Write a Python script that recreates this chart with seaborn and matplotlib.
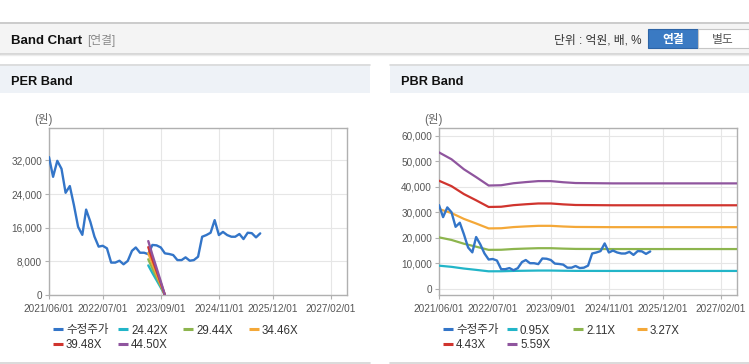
import numpy as np
import pandas as pd
import matplotlib
matplotlib.use("Agg")
import matplotlib.pyplot as plt
import matplotlib.dates as mdates
from matplotlib.ticker import FuncFormatter
from matplotlib.patches import Rectangle
from matplotlib.lines import Line2D
import seaborn as sns

# ---------------- data ----------------
price_label = "수정주가"
price_start = "2021-06-01"
price_end = "2025-09-01"
price_values = [32800, 28100, 31900, 30000, 24300, 25900, 21400, 16200, 14300, 20300,
                17400, 13900, 11500, 11700, 11100, 7700, 7700, 8150, 7300, 8100,
                10500, 11300, 10050, 10050, 9700, 11900, 11800, 11300, 9900, 9750,
                9500, 8300, 8300, 8950, 8150, 8300, 9100, 13850, 14250, 14800,
                17800, 14250, 15000, 14250, 13850, 13850, 14500, 13300, 14800, 14700,
                13700, 14650]

per_multiples = [24.42, 29.44, 34.46, 39.48, 44.50]
per_labels = ["24.42X", "29.44X", "34.46X", "39.48X", "44.50X"]
eps_dates = ["2023-06-01", "2023-07-01", "2023-08-01", "2023-09-01", "2023-10-01"]
eps_values = [288, 215, 144, 72, 0]

pbr_multiples = [0.95, 2.11, 3.27, 4.43, 5.59]
pbr_labels = ["0.95X", "2.11X", "3.27X", "4.43X", "5.59X"]
bps_dates = ["2021-06-01", "2021-09-01", "2021-12-01", "2022-03-01", "2022-06-01",
             "2022-09-01", "2022-12-01", "2023-03-01", "2023-06-01", "2023-09-01",
             "2023-12-01", "2024-03-01", "2024-12-01", "2025-12-01", "2026-12-01",
             "2027-06-01"]
bps_values = [9560, 9080, 8380, 7830, 7240, 7260, 7400, 7480, 7550, 7550,
              7470, 7415, 7390, 7390, 7390, 7390]

x_tick_dates = ["2021-06-01", "2022-07-01", "2023-09-01", "2024-11-01", "2025-12-01", "2027-02-01"]
x_limits = ["2021-06-01", "2027-06-01"]
per_yticks = [0, 8000, 16000, 24000, 32000]
pbr_yticks = [0, 10000, 20000, 30000, 40000, 50000, 60000]

price_color = "#3375c8"
band_colors = ["#22b5c8", "#8db54e", "#f4a838", "#d0342e", "#8f559e"]

# ---------------- style ----------------
sns.set_theme(style="white")
plt.rcParams["font.family"] = ["Liberation Sans", "Noto Sans CJK KR"]

W, H = 749, 364
fig = plt.figure(figsize=(W / 100, H / 100), dpi=100)
fig.patch.set_facecolor("white")


def fx(x):
    return x / W


def fy(y):
    return 1 - y / H


def rect(x0, y0, x1, y1, fc, ec="none", lw=0.0, z=0):
    r = Rectangle((fx(x0), fy(y1)), (x1 - x0) / W, (y1 - y0) / H, transform=fig.transFigure,
                  facecolor=fc, edgecolor=ec, linewidth=lw, zorder=z)
    fig.add_artist(r)


def hline(x0, x1, y, color, lw=1.0):
    fig.add_artist(Line2D([fx(x0), fx(x1)], [fy(y), fy(y)], transform=fig.transFigure,
                          color=color, linewidth=lw))


# top header bar
rect(0, 22, 749, 53, "#f4f4f4")
hline(0, 749, 22.5, "#c4c4c4", 1.2)
hline(0, 749, 53.5, "#cfcfcf", 1.2)
hline(0, 749, 55, "#ececec", 1.0)
fig.text(fx(11), fy(39), "Band Chart", fontsize=9.5, fontweight="bold", color="#111111",
         ha="left", va="center_baseline")
fig.text(fx(87), fy(39), "[연결]", fontsize=8.5, color="#8a8a8a", ha="left", va="center_baseline")
fig.text(fx(642), fy(39), "단위 : 억원, 배, %", fontsize=8.5, color="#333333", ha="right",
         va="center_baseline")
rect(648, 29, 698, 48, "#3a7ac3", ec="#2d64a6", lw=0.8, z=2)
rect(698, 29, 749, 48, "white", ec="#c6c6c6", lw=0.8, z=2)
fig.text(fx(673), fy(39), "연결", fontsize=8.5, fontweight="bold", color="white",
         ha="center", va="center_baseline", zorder=3)
fig.text(fx(723), fy(39), "별도", fontsize=8.5, color="#555555", ha="center",
         va="center_baseline", zorder=3)

# panel headers
for (x0, x1, title) in [(0, 370, "PER Band"), (390, 749, "PBR Band")]:
    rect(x0, 64, x1, 93, "#eef2f7")
    hline(x0, x1, 64.5, "#d9d9d9", 1.2)
    hline(x0, x1, 363, "#d4d4d4", 1.2)
    fig.text(fx(x0 + 11), fy(80.5), title, fontsize=9.2, fontweight="bold", color="#111111",
             ha="left", va="center_baseline")

price_dates = pd.date_range(price_start, price_end, freq="MS")
eps_ts = pd.to_datetime(eps_dates)
bps_ts = pd.to_datetime(bps_dates)


def style_axes(ax, yticks, ylim):
    ax.set_facecolor("white")
    ax.set_xlim(pd.Timestamp(x_limits[0]), pd.Timestamp(x_limits[1]))
    ax.set_ylim(*ylim)
    ax.set_xticks([pd.Timestamp(d) for d in x_tick_dates])
    ax.xaxis.set_major_formatter(mdates.DateFormatter("%Y/%m/%d"))
    ax.set_yticks(yticks)
    ax.yaxis.set_major_formatter(FuncFormatter(lambda v, p: f"{int(v):,}"))
    ax.grid(True, color="#e6e6e6", linewidth=0.8)
    ax.set_axisbelow(True)
    for s in ax.spines.values():
        s.set_color("#b0b0b0")
        s.set_linewidth(1.0)
    ax.tick_params(axis="both", which="major", length=3, width=0.8, color="#b0b0b0",
                   labelsize=7.2, labelcolor="#555555", direction="out",
                   bottom=True, left=True)
    ax.tick_params(axis="x", pad=3.5)
    ax.tick_params(axis="y", pad=2)
    ax.set_xlabel("")
    ax.set_ylabel("")


def draw_legend(labels, colors, col_x, rows_y):
    for i, (lab, c) in enumerate(zip(labels, colors)):
        col, row = i % 4, i // 4
        x0, y = col_x[col], rows_y[row]
        fig.add_artist(Line2D([fx(x0), fx(x0 + 10)], [fy(y), fy(y)], transform=fig.transFigure,
                              color=c, linewidth=2.2, solid_capstyle="butt"))
        fig.text(fx(x0 + 13), fy(y), lab, fontsize=8.3, color="#333333", ha="left",
                 va="center_baseline")


# PER chart
ax1 = fig.add_axes([fx(49), fy(295), 298 / W, 167 / H])
sns.lineplot(x=price_dates, y=price_values, ax=ax1, color=price_color, linewidth=1.7,
             legend=False, zorder=3)
for m, c in zip(per_multiples, band_colors):
    sns.lineplot(x=eps_ts, y=[m * e for e in eps_values], ax=ax1, color=c, linewidth=1.7,
                 legend=False, zorder=4)
style_axes(ax1, per_yticks, (0, 39700))
fig.text(fx(43), fy(118), "(원)", fontsize=8.3, color="#666666", ha="center", va="center_baseline")
draw_legend([price_label] + per_labels, [price_color] + band_colors,
            [53, 118, 183, 249], [329, 344])

# PBR chart
ax2 = fig.add_axes([fx(439), fy(295), 298 / W, 167 / H])
for m, c in zip(pbr_multiples, band_colors):
    sns.lineplot(x=bps_ts, y=[m * b for b in bps_values], ax=ax2, color=c, linewidth=1.6,
                 legend=False, zorder=3)
sns.lineplot(x=price_dates, y=price_values, ax=ax2, color=price_color, linewidth=1.7,
             legend=False, zorder=4)
style_axes(ax2, pbr_yticks, (-2400, 63000))
fig.text(fx(433), fy(118), "(원)", fontsize=8.3, color="#666666", ha="center", va="center_baseline")
draw_legend([price_label] + pbr_labels, [price_color] + band_colors,
            [443, 507, 573, 637], [329, 344])

fig.savefig("out.png", dpi=100, facecolor="white")
